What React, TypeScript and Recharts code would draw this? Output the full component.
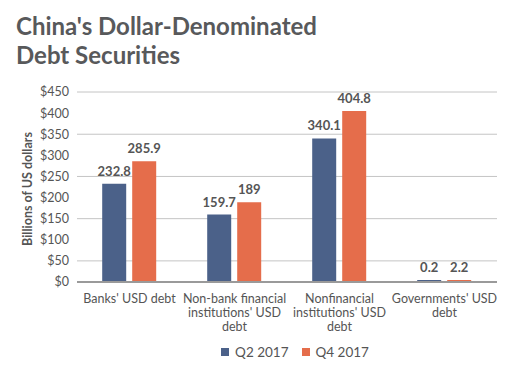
import React from 'react'
import { BarChart, Bar, XAxis, YAxis, CartesianGrid, Legend, LabelList } from 'recharts'

const categories = [
  "Banks' USD debt",
  "Non-bank financial\ninstitutions' USD\ndebt",
  "Nonfinancial\ninstitutions' USD\ndebt",
  "Governments' USD\ndebt",
]
const q2Values = [232.8, 159.7, 340.1, 0.2]
const q4Values = [285.9, 189, 404.8, 2.2]
const yTicks = [0, 50, 100, 150, 200, 250, 300, 350, 400, 450]

const data = categories.map((name, i) => ({ name, q2: q2Values[i], q4: q4Values[i] }))

const FONT = 'Lato, "Open Sans", sans-serif'
const TEXT = '#555555'
const BLUE = '#4b6189'
const ORANGE = '#e56d4b'

const CategoryTick = ({ x, y, payload }: any) => {
  const lines = String(payload.value).split('\n')
  return (
    <text x={x} y={y} textAnchor="middle" fill={TEXT} fontSize={12.5} fontFamily={FONT}>
      {lines.map((line: string, i: number) => (
        <tspan key={i} x={x} dy={i === 0 ? 13 : 14}>
          {line}
        </tspan>
      ))}
    </text>
  )
}

const YLabel = ({ viewBox }: any) => {
  const cx = viewBox.x
  const cy = viewBox.y + viewBox.height / 2 + 2
  return (
    <text
      x={cx}
      y={cy}
      transform={`rotate(-90, ${cx}, ${cy})`}
      textAnchor="middle"
      dominantBaseline="central"
      fill={TEXT}
      fontSize={12.5}
      fontWeight={700}
      fontFamily={FONT}
    >
      Billions of US dollars
    </text>
  )
}

const CustomLegend = ({ payload }: any) => (
  <div
    style={{
      display: 'flex',
      justifyContent: 'center',
      gap: 13,
      paddingLeft: 66,
      paddingTop: 4,
      fontFamily: FONT,
      fontSize: 13.5,
      color: TEXT,
    }}
  >
    {payload.map((entry: any, i: number) => (
      <div key={i} style={{ display: 'flex', alignItems: 'center' }}>
        <div style={{ width: 8, height: 8, background: entry.color, marginRight: 6 }} />
        <span>{entry.value}</span>
      </div>
    ))}
  </div>
)

export default function App() {
  return (
    <div style={{ position: 'absolute', left: 0, top: 0, width: 512, height: 370, background: '#fff' }}>
      <div
        style={{
          position: 'absolute',
          left: 16,
          top: 11,
          fontFamily: FONT,
          fontWeight: 700,
          fontSize: 24,
          lineHeight: '29px',
          color: '#58595b',
        }}
      >
        China's Dollar-Denominated
        <br />
        Debt Securities
      </div>
      <BarChart
        width={512}
        height={370}
        data={data}
        margin={{ top: 92, right: 15, bottom: 4, left: 27 }}
        barCategoryGap="24%"
        barGap={6}
      >
        <CartesianGrid vertical={false} stroke="#c4c4c4" />
        <XAxis
          dataKey="name"
          axisLine={{ stroke: '#9a9a9a', strokeWidth: 2 }}
          tickLine={false}
          tick={<CategoryTick />}
          interval={0}
          height={58}
        />
        <YAxis
          width={50}
          domain={[0, 450]}
          ticks={yTicks}
          axisLine={false}
          tickLine={false}
          tickMargin={2}
          tickFormatter={(v: number) => `$${v}`}
          tick={{ fill: TEXT, fontSize: 12.5, fontFamily: FONT }}
          label={<YLabel />}
        />
        <Legend verticalAlign="bottom" height={26} content={<CustomLegend />} />
        <Bar dataKey="q2" name="Q2 2017" fill={BLUE} minPointSize={2} isAnimationActive={false}>
          <LabelList dataKey="q2" position="top" offset={8} fill={TEXT} fontSize={13} fontWeight={700} fontFamily={FONT} />
        </Bar>
        <Bar dataKey="q4" name="Q4 2017" fill={ORANGE} minPointSize={2} isAnimationActive={false}>
          <LabelList dataKey="q4" position="top" offset={8} fill={TEXT} fontSize={13} fontWeight={700} fontFamily={FONT} />
        </Bar>
      </BarChart>
    </div>
  )
}
